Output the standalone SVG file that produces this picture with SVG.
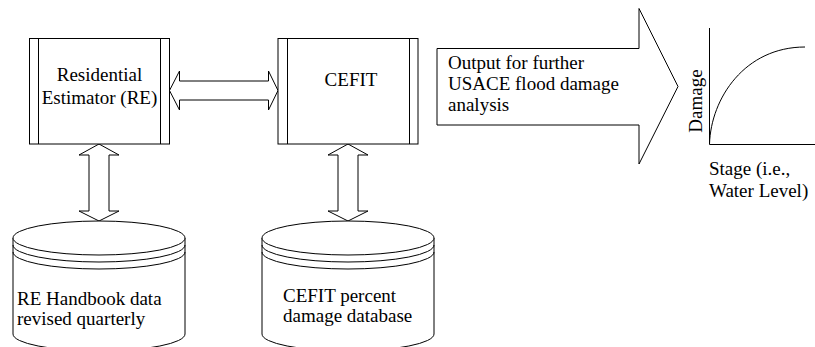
<svg xmlns="http://www.w3.org/2000/svg" width="815" height="347" viewBox="0 0 815 347">
<style>
.s{fill:#fff;stroke:#000;stroke-width:1}
.l{fill:none;stroke:#000;stroke-width:1}
.t{font-family:"Liberation Serif","Times New Roman",serif;font-size:19px;fill:#000}
.m{text-anchor:middle}
</style>
<rect width="815" height="347" fill="#fff"/>
<g id="connectors">
<path class="s" d="M169.5,90.5 L179.5,71 L179.5,81 L268.5,81 L268.5,71 L278,90.5 L268.5,110 L268.5,100 L179.5,100 L179.5,110 Z"/>
<path class="s" d="M99,144 L119,155 L109,155 L109,211 L119,211 L99,221 L79,211 L89,211 L89,155 L79,155 Z"/>
<path class="s" d="M348,144 L368,155 L358,155 L358,211 L368,211 L348,221 L328,211 L338,211 L338,155 L328,155 Z"/>
</g>
<g id="re">
<rect class="s" x="29.5" y="38.5" width="140" height="105.5"/>
<path class="l" d="M38.5,38.5 V144 M160.5,38.5 V144"/>
<text class="t m" x="99.5" y="81">Residential</text>
<text class="t m" x="99.5" y="104">Estimator (RE)</text>
</g>
<g id="cefit">
<rect class="s" x="278" y="38.5" width="140" height="105.5"/>
<path class="l" d="M287.5,38.5 V144 M409.5,38.5 V144"/>
<text class="t m" x="351" y="86">CEFIT</text>
</g>
<g id="re-db">
<path class="s" d="M13,238 V334 A86,17 0 0 0 185,334 V238"/>
<ellipse class="s" cx="99" cy="238" rx="86" ry="17"/>
<path class="l" d="M13,245 A86,17 0 0 0 185,245 M13,252 A86,17 0 0 0 185,252"/>
<text class="t" x="17" y="305">RE Handbook data</text>
<text class="t" x="17" y="325">revised quarterly</text>
</g>
<g id="cefit-db">
<path class="s" d="M262,238 V334 A86,17 0 0 0 434,334 V238"/>
<ellipse class="s" cx="348" cy="238" rx="86" ry="17"/>
<path class="l" d="M262,245 A86,17 0 0 0 434,245 M262,252 A86,17 0 0 0 434,252"/>
<text class="t" x="283" y="302">CEFIT percent</text>
<text class="t" x="283" y="322">damage database</text>
</g>
<g id="output">
<path class="s" d="M437,48.5 H639 V8.5 L678,86.5 L639,164 V125 H437 Z"/>
<text class="t" x="448" y="69">Output for further</text>
<text class="t" x="448" y="90">USACE flood damage</text>
<text class="t" x="448" y="111">analysis</text>
</g>
<g id="graph">
<path class="l" d="M709.5,28 V144.5 H815"/>
<path class="l" d="M709.5,144 C711,98 745,47 805,47"/>
<text class="t m" transform="translate(702,101) rotate(-90)">Damage</text>
<text class="t" x="709" y="175">Stage (i.e.,</text>
<text class="t" x="709" y="197">Water Level)</text>
</g>
</svg>
